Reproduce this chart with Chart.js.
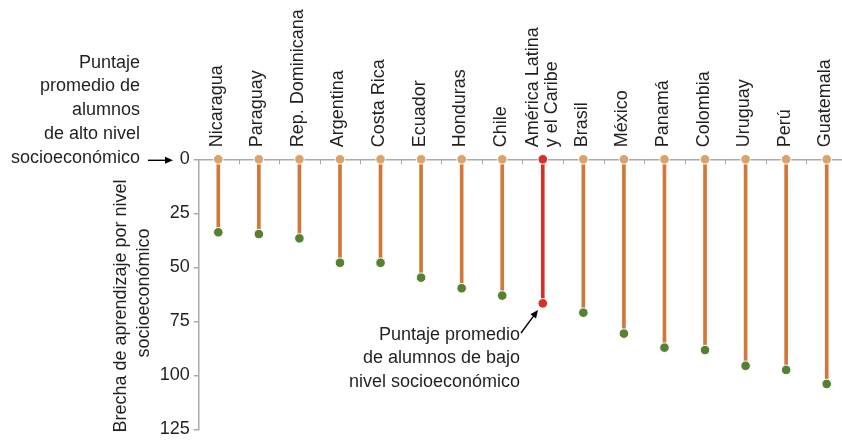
<!DOCTYPE html>
<html>
<head>
<meta charset="utf-8">
<script src="https://cdn.jsdelivr.net/npm/chart.js@4.4.1/dist/chart.umd.min.js"></script>
<style>
  html, body { margin: 0; padding: 0; background: #fff; }
  #wrap { width: 842px; height: 442px; }
</style>
</head>
<body>
<div id="wrap"><canvas id="gapChart" width="842" height="442"></canvas></div>
<script>
// countries, ordered by gap size (regional average highlighted)
const countries = ['Nicaragua', 'Paraguay', 'Rep. Dominicana', 'Argentina', 'Costa Rica', 'Ecuador', 'Honduras', 'Chile',
    ['América Latina', 'y el Caribe'], 'Brasil', 'México', 'Panamá', 'Colombia', 'Uruguay', 'Perú', 'Guatemala'];
// gap between high and low socioeconomic level (score points)
const brecha = [33.8, 34.6, 36.6, 47.9, 47.9, 54.8, 59.7, 63.1, 66.7, 71.0, 80.7, 87.2, 88.3, 95.6, 97.5, 104.0];
const yTicks = [0, 25, 50, 75, 100, 125];
const regionIdx = 8;

const TEXT = '#231f20';
const TAN = '#d9a36b';
const STEM = '#d2773a';
const GREEN = '#568132';
const RED = '#d7302a';
const FONT = "18px 'Liberation Sans', Arial, sans-serif";

const pick = (a, b) => countries.map((_, i) => i === regionIdx ? b : a);

Chart.defaults.font.family = "'Liberation Sans', Arial, sans-serif";
Chart.defaults.font.size = 18;
Chart.defaults.color = TEXT;

// country names (vertical), text notes, arrows and the little ticks between countries
const notes = {
    id: 'notes',
    afterDraw(chart) {
        const { ctx, scales: { x, y } } = chart;
        const y0 = y.getPixelForValue(0);
        ctx.save();

        ctx.strokeStyle = '#aaa';
        ctx.lineWidth = 1;
        for (let i = 0; i < countries.length - 1; i++) {
            const px = Math.round(x.getPixelForValue(i + 0.5)) + 0.5;
            ctx.beginPath();
            ctx.moveTo(px, y0);
            ctx.lineTo(px, y0 + 5);
            ctx.stroke();
        }

        ctx.fillStyle = TEXT;
        ctx.font = FONT;
        ctx.textBaseline = 'alphabetic';

        ctx.textAlign = 'left';
        countries.forEach((name, i) => {
            const lines = Array.isArray(name) ? name : [name];
            const first = lines.length > 1 ? -5 : 3.5;
            ctx.save();
            ctx.translate(x.getPixelForValue(i), y0 - 12);
            ctx.rotate(-Math.PI / 2);
            lines.forEach((t, k) => ctx.fillText(t, 0, first + k * 19));
            ctx.restore();
        });

        ctx.textAlign = 'right';
        const topNote = ['Puntaje', 'promedio de', 'alumnos', 'de alto nivel', 'socioeconómico'];
        topNote.forEach((t, i) => ctx.fillText(t, 140, 67.5 + i * 23.8));
        const lowNote = ['Puntaje promedio', 'de alumnos de bajo', 'nivel socioeconómico'];
        lowNote.forEach((t, i) => ctx.fillText(t, 520, 339.5 + i * 23.7));

        // y title, rotated
        ctx.textAlign = 'center';
        ctx.save();
        ctx.translate(126, 306);
        ctx.rotate(-Math.PI / 2);
        ctx.fillText('Brecha de aprendizaje por nivel', 0, 0);
        ctx.restore();
        ctx.save();
        ctx.translate(149, 293);
        ctx.rotate(-Math.PI / 2);
        ctx.fillText('socioeconómico', 0, 0);
        ctx.restore();

        const arrow = (x1, y1, x2, y2) => {
            const a = Math.atan2(y2 - y1, x2 - x1);
            ctx.strokeStyle = '#000';
            ctx.fillStyle = '#000';
            ctx.lineWidth = 1.4;
            ctx.beginPath();
            ctx.moveTo(x1, y1);
            ctx.lineTo(x2 - 6 * Math.cos(a), y2 - 6 * Math.sin(a));
            ctx.stroke();
            ctx.beginPath();
            ctx.moveTo(x2, y2);
            ctx.lineTo(x2 - 8 * Math.cos(a) + 3.5 * Math.sin(a), y2 - 8 * Math.sin(a) - 3.5 * Math.cos(a));
            ctx.lineTo(x2 - 8 * Math.cos(a) - 3.5 * Math.sin(a), y2 - 8 * Math.sin(a) + 3.5 * Math.cos(a));
            ctx.closePath();
            ctx.fill();
        };
        arrow(148, y0 + 1, 173, y0 + 1);
        arrow(521, 333, 538, 310);
        ctx.restore();
    }
};

new Chart(document.getElementById('gapChart'), {
    type: 'bar',
    data: {
        datasets: [
            {
                type: 'bar',
                data: brecha.map((v, i) => ({ x: i, y: [0, v] })),
                backgroundColor: pick(STEM, RED),
                barThickness: 3,
                borderWidth: 0,
                order: 3
            },
            {
                type: 'scatter',
                data: brecha.map((v, i) => ({ x: i, y: 0 })),
                pointRadius: 4.8,
                pointBackgroundColor: pick(TAN, RED),
                pointBorderColor: '#fff',
                pointBorderWidth: 1,
                clip: false,
                order: 1
            },
            {
                type: 'scatter',
                data: brecha.map((v, i) => ({ x: i, y: v })),
                pointRadius: 4.8,
                pointBackgroundColor: pick(GREEN, RED),
                pointBorderColor: '#fff',
                pointBorderWidth: 1,
                clip: false,
                order: 1
            }
        ]
    },
    options: {
        responsive: false,
        animation: false,
        layout: { autoPadding: false, padding: { left: 0, right: 0, top: 0, bottom: 12.7 } },
        plugins: { legend: { display: false }, tooltip: { enabled: false } },
        scales: {
            x: {
                type: 'linear',
                position: 'top',
                offset: false,
                min: -0.483,
                max: 15.377,
                afterBuildTicks: s => { s.ticks = countries.map((_, i) => ({ value: i })); },
                afterFit: s => {
                    s.height = 159.3;
                    s.paddingLeft = 0;
                    s.paddingRight = 0;
                },
                ticks: { display: false },
                grid: { display: false },
                border: { color: '#aaa', width: 1.5 }
            },
            y: {
                reverse: true,
                min: 0,
                max: 125,
                afterBuildTicks: s => { s.ticks = yTicks.map(v => ({ value: v })); },
                afterFit: s => {
                    s.width = 198.7;
                    s.paddingTop = 0;
                    s.paddingBottom = 0;
                },
                ticks: { padding: 4 },
                grid: { drawOnChartArea: false, tickLength: 5, color: '#aaa', lineWidth: 1.5 },
                border: { color: '#aaa', width: 1.5 }
            }
        }
    },
    plugins: [notes]
});
</script>
</body>
</html>
